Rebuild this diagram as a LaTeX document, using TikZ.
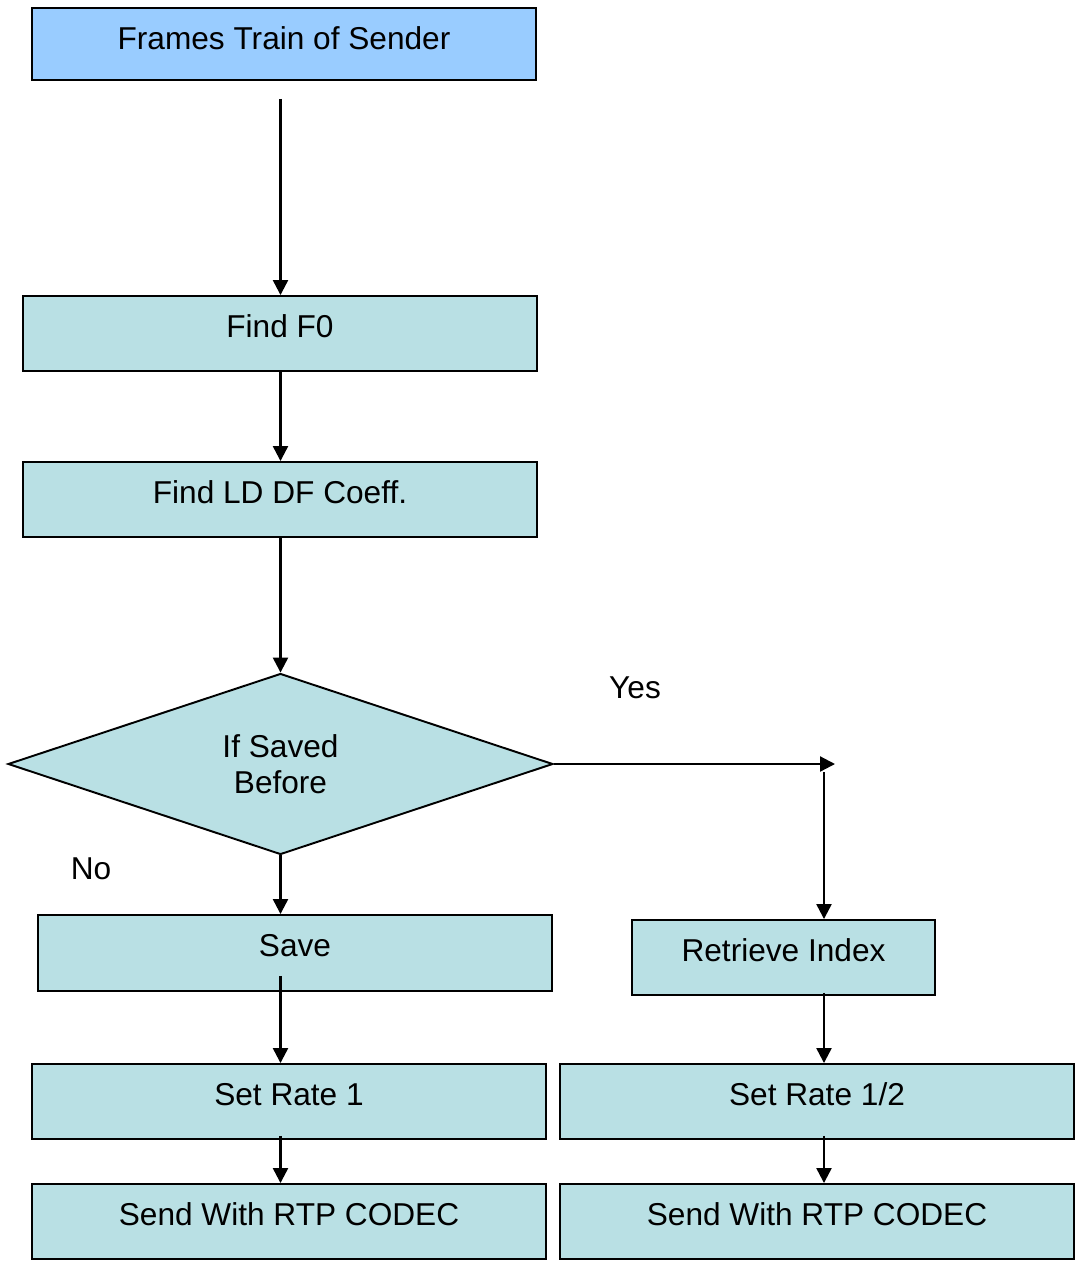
\documentclass[tikz,border=0pt]{standalone}
\usepackage{fontspec}
\setmainfont{Liberation Sans}
\usetikzlibrary{arrows.meta,positioning,calc,shapes.geometric}

\definecolor{topblue}{RGB}{153,204,255}
\definecolor{boxcyan}{RGB}{185,224,228}

\begin{document}
\begin{tikzpicture}[x=0.02cm,y=-0.02cm,>={Triangle[length=8.5pt,width=8.5pt]},line width=1.1pt,
  font=\fontsize{18}{20.4}\selectfont]
\tikzstyle{b}=[draw,fill=boxcyan,minimum height=1.5cm,text height=13pt,text depth=9pt,inner sep=0pt]
\tikzstyle{d}=[draw,fill=boxcyan,diamond,minimum width=10.9cm,minimum height=3.62cm,inner sep=0pt,align=center]
\tikzstyle{a}=[->,line width=1.3pt]
\useasboundingbox (0,0) rectangle (1078,1262);
% main column
\node[b,fill=topblue,minimum width=10.08cm,minimum height=1.44cm,text depth=7pt] (top) at (284,44) {Frames Train of Sender};
\node[b,minimum width=10.28cm] (f0) at (280,333.5) {Find F0};
\node[b,minimum width=10.28cm] (ld) at (280,499.5) {Find LD DF Coeff.};
\node[d] (dia) at (280.5,764) {If Saved\\Before};
\node (yes) at (635,688) {Yes};
\node (no) at (91,869) {No};
% left branch
\node[b,minimum width=10.28cm,minimum height=1.52cm] (save) at (295,953) {Save};
\node[b,minimum width=10.28cm] (r1) at (289,1101.5) {Set Rate 1};
\node[b,minimum width=10.28cm] (s1) at (289,1221.5) {Send With RTP CODEC};
% right branch
\node[b,minimum width=6.06cm] (ret) at (783.5,957.5) {Retrieve Index};
\node[b,minimum width=10.28cm] (r2) at (817,1101.5) {Set Rate 1/2};
\node[b,minimum width=10.28cm] (s2) at (817,1221.5) {Send With RTP CODEC};
\coordinate (yesend) at (835,764);
\coordinate (yestop) at (824,772);
% connectors
\draw[a,shorten <=0.36cm] (top.south -| dia.north) -- (f0.north -| dia.north);
\draw[a] (f0.south -| dia.north) -- (ld.north -| dia.north);
\draw[a] (ld.south -| dia.north) -- (dia.north);
\draw[a] (dia.east) -- (yesend);
\draw[a] (yestop) -- (yestop |- ret.north);
\draw[a] (dia.south) -- (dia.south |- save.north);
\draw[a,shorten <=-0.32cm] (save.south -| dia.south) -- (dia.south |- r1.north);
\draw[a,shorten <=-0.06cm] (ret.south -| yestop) -- (yestop |- r2.north);
\draw[a,shorten <=-0.08cm] (r1.south -| dia.south) -- (dia.south |- s1.north);
\draw[a,shorten <=-0.08cm] (r2.south -| yestop) -- (yestop |- s2.north);
\end{tikzpicture}
\end{document}
